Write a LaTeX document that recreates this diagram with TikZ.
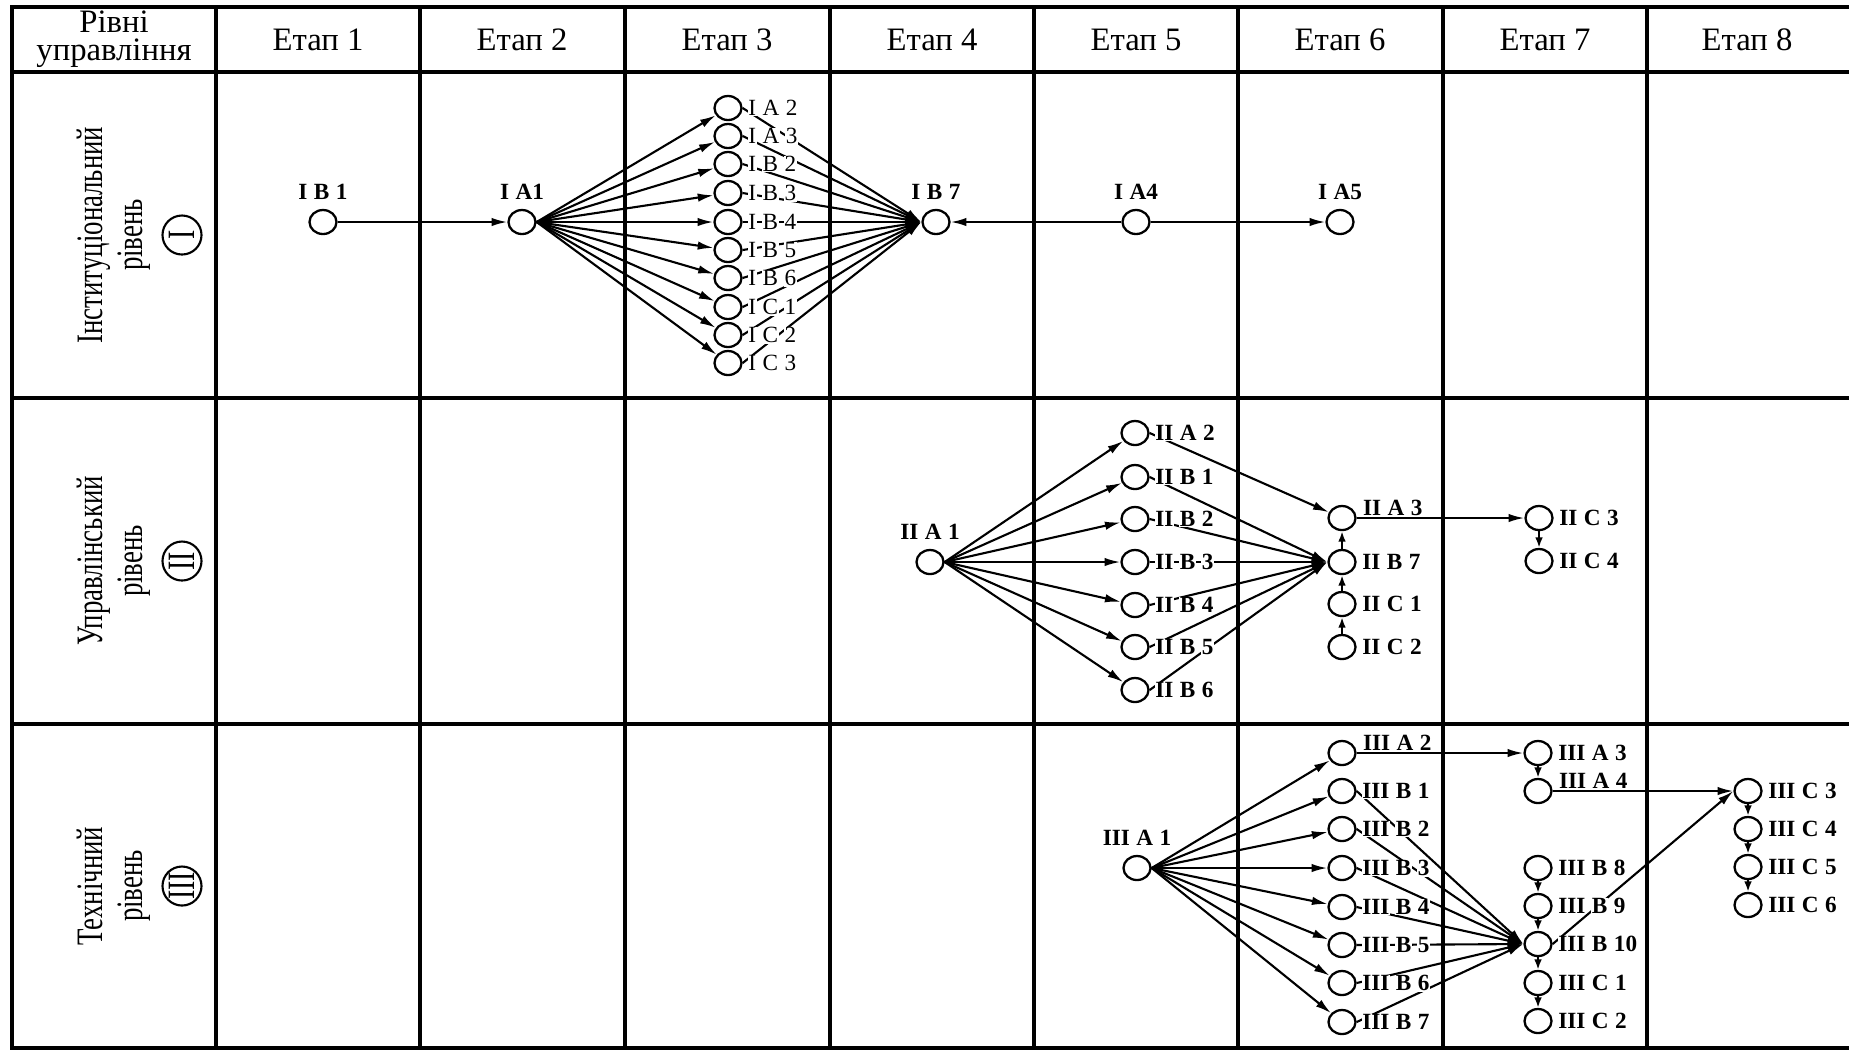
\documentclass[tikz,border=0pt]{standalone}
\usepackage{fontspec}
\setmainfont{Liberation Serif}
\usepackage{graphicx}
\usetikzlibrary{shapes.geometric,arrows.meta,positioning}
\newcommand\wg[1]{{\fboxsep=0.2pt\colorbox{white}{#1}}}
\newcommand\lbb[2]{\wg{#1}\hspace{0.22em}\wg{#2}}
\newcommand\lb[3]{\lbb{#1}{#2}\hspace{0.22em}\wg{#3}}
\newcommand\cnd[1]{\scalebox{0.72}[1]{#1}}
\begin{document}
\begin{tikzpicture}[x=0.01cm, y=-0.01cm,
    frame/.style={line width=0.9pt},
    hd/.style={font=\fontsize{9.3}{7.9}\selectfont, align=center, inner sep=0pt},
    lvl/.style={rotate=90, align=center, inner sep=0pt, font=\fontsize{10.6}{11.4}\selectfont},
    rom/.style={circle, draw, line width=0.6pt, rotate=90, minimum size=0.39cm, inner sep=0pt, font=\fontsize{11}{11}\selectfont},
    ev/.style={ellipse, draw, line width=0.65pt, minimum width=0.27cm, minimum height=0.24cm, inner sep=0pt},
    lbl/.style={inner sep=0pt, font=\fontsize{6.6}{7}\selectfont\bfseries},
    reg/.style={font=\fontsize{6.6}{7}\selectfont},
    lr/.style={lbl, anchor=west, xshift=1.2pt},
    lu/.style={lbl, anchor=south, yshift=2.2pt},
    lne/.style={lbl, anchor=west, xshift=1.4pt, yshift=3pt},
    arr/.style={-{Latex[length=4.5pt,width=2.4pt]}, line width=0.6pt},
    sarr/.style={-{Latex[length=3pt,width=2.2pt]}, line width=0.6pt}]
\useasboundingbox (0,0) rectangle (1849,1050);
\draw[frame] (12,7) rectangle (1856,1048);
\foreach \x in {216,420,625,830,1034,1238,1443,1647} \draw[frame] (\x,7) -- (\x,1048);
\foreach \y in {72,398,724} \draw[frame] (12,\y) -- (1856,\y);
\node[hd] (hd0) at (114,39) {Рівні\\управління};
\foreach \x/\i in {318/1,522/2,727/3,932/4,1136/5,1340/6,1545/7,1747/8} \node[hd] (st\i) at (\x,40) {Етап \i};
\foreach \y/\rr/\txt/\rn in {235/1/Інституціональний/I,561/2/Управлінський/II,886/3/Технічний/III}{
  \node[lvl] (lv\rr) at (114,\y) {\cnd{\txt}\\\cnd{рівень}};
  \node[rom] (rn\rr) at (182,\y) {\cnd{\rn}};
}
% I
\foreach \nm/\x in {IB1/323,IA1/522,IB7/936,IA4/1136,IA5/1340} \node[ev] (\nm) at (\x,222) {};
\foreach \nm/\y in {IA2/108,IA3/136,IB2/164,IB3/193,IB4/222,IB5/250,IB6/278,IC1/307,IC2/335,IC3/363} \node[ev] (\nm) at (728,\y) {};
\draw[arr] (IB1.east) -- (IA1.west);
\foreach \nm in {IA2,IA3,IB2,IB3,IB4,IB5,IB6,IC1,IC2,IC3}{
  \draw[arr] (IA1.east) -- (\nm);
  \draw[arr] (\nm.east) -- (IB7.west);
}
\draw[arr] (IA4.west) -- (IB7.east);
\draw[arr] (IA4.east) -- (IA5.west);
\node[lu] (lIB1) at (IB1.north) {\lb{I}{B}{1}};
\node[lu] (lIA1) at (IA1.north) {\lbb{I}{A1}};
\node[lu] (lIB7) at (IB7.north) {\lb{I}{B}{7}};
\node[lu] (lIA4) at (IA4.north) {\lbb{I}{A4}};
\node[lu] (lIA5) at (IA5.north) {\lbb{I}{A5}};
\foreach \nm/\a/\b in {IA2/A/2,IA3/A/3,IB2/B/2,IB3/B/3,IB4/B/4,IB5/B/5,IB6/B/6,IC1/C/1,IC2/C/2,IC3/C/3}
  \node[lr, reg] (l\nm) at (\nm.east) {\lb{I}{\a}{\b}};
% II
\node[ev] (IIA1) at (930,562) {};
\foreach \nm/\y in {IIA2/433,IIB1/477,IIB2/519,IIB3/562,IIB4/605,IIB5/647,IIB6/690} \node[ev] (\nm) at (1135,\y) {};
\foreach \nm/\y in {IIA3/518,IIB7/562,IIC1/604,IIC2/647} \node[ev] (\nm) at (1342,\y) {};
\node[ev] (IIC3) at (1539,518) {};
\node[ev] (IIC4) at (1539,561) {};
\foreach \nm in {IIA2,IIB1,IIB2,IIB3,IIB4,IIB5,IIB6} \draw[arr] (IIA1.east) -- (\nm);
\draw[arr] (IIA2.east) -- (IIA3);
\foreach \nm in {IIB1,IIB2,IIB3,IIB4,IIB5,IIB6} \draw[arr] (\nm.east) -- (IIB7.west);
\draw[sarr] (IIB7) -- (IIA3);
\draw[sarr] (IIC1) -- (IIB7);
\draw[sarr] (IIC2) -- (IIC1);
\draw[arr] (IIA3.east) -- (IIC3.west);
\draw[sarr] (IIC3) -- (IIC4);
\node[lu] (lIIA1) at (IIA1.north) {\lb{II}{A}{1}};
\node[lne] (lIIA3) at (IIA3.east) {\lb{II}{A}{3}};
\foreach \nm/\a/\b in {IIA2/A/2,IIB1/B/1,IIB2/B/2,IIB3/B/3,IIB4/B/4,IIB5/B/5,IIB6/B/6,IIB7/B/7,IIC1/C/1,IIC2/C/2,IIC3/C/3,IIC4/C/4}
  \node[lr] (l\nm) at (\nm.east) {\lb{II}{\a}{\b}};
% III
\node[ev] (IIIA1) at (1137,868) {};
\foreach \nm/\y in {IIIA2/753,IIIB1/791,IIIB2/829,IIIB3/868,IIIB4/907,IIIB5/945,IIIB6/983,IIIB7/1022} \node[ev] (\nm) at (1342,\y) {};
\foreach \nm/\y in {IIIA3/753,IIIA4/791,IIIB8/868,IIIB9/906,IIIB10/944,IIIC1/983,IIIC2/1021} \node[ev] (\nm) at (1538,\y) {};
\foreach \nm/\y in {IIIC3/791,IIIC4/829,IIIC5/867,IIIC6/905} \node[ev] (\nm) at (1748,\y) {};
\foreach \nm in {IIIA2,IIIB1,IIIB2,IIIB3,IIIB4,IIIB5,IIIB6,IIIB7} \draw[arr] (IIIA1.east) -- (\nm);
\foreach \nm in {IIIB1,IIIB2,IIIB3,IIIB4,IIIB5,IIIB6,IIIB7} \draw[arr] (\nm.east) -- (IIIB10.west);
\draw[arr] (IIIA2.east) -- (IIIA3.west);
\draw[sarr] (IIIA3) -- (IIIA4);
\draw[arr] (IIIA4.east) -- (IIIC3.west);
\draw[arr] (IIIB10.east) -- (IIIC3.west);
\foreach \a/\b in {IIIB8/IIIB9,IIIB9/IIIB10,IIIB10/IIIC1,IIIC1/IIIC2,IIIC3/IIIC4,IIIC4/IIIC5,IIIC5/IIIC6} \draw[sarr] (\a) -- (\b);
\node[lu] (lIIIA1) at (IIIA1.north) {\lb{III}{A}{1}};
\node[lne] (lIIIA2) at (IIIA2.east) {\lb{III}{A}{2}};
\node[lne] (lIIIA4) at (IIIA4.east) {\lb{III}{A}{4}};
\foreach \nm/\a/\b in {IIIB1/B/1,IIIB2/B/2,IIIB3/B/3,IIIB4/B/4,IIIB5/B/5,IIIB6/B/6,IIIB7/B/7,IIIA3/A/3,IIIB8/B/8,IIIB9/B/9,IIIB10/B/10,IIIC1/C/1,IIIC2/C/2,IIIC3/C/3,IIIC4/C/4,IIIC5/C/5,IIIC6/C/6}
  \node[lr] (l\nm) at (\nm.east) {\lb{III}{\a}{\b}};
\end{tikzpicture}
\end{document}
